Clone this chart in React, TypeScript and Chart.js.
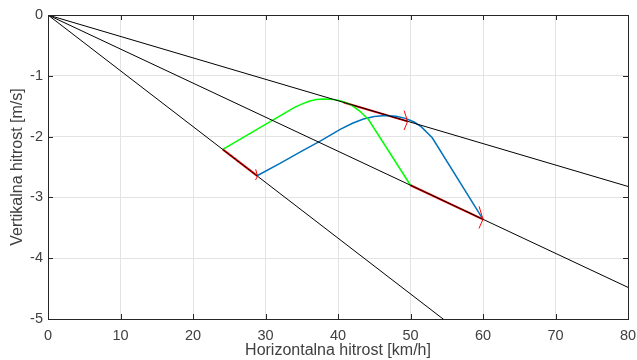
import React, { useEffect, useRef } from 'react';
import { Chart, registerables } from 'chart.js';

Chart.register(...registerables);

// ---- data ----
const xTicks = [0, 10, 20, 30, 40, 50, 60, 70, 80];
const yTicks = [0, -1, -2, -3, -4, -5];

const ray1X = [0, 80];
const ray1Y = [0, -2.82];
const ray2X = [0, 80];
const ray2Y = [0, -4.48];
const ray3X = [0, 80];
const ray3Y = [0, -7.34];

const greenX = [24.1, 26, 28, 30, 32, 33, 34, 35, 36, 37, 38, 39, 40, 40.8, 41.7, 43, 44.2, 50];
const greenY = [-2.21, -2.08, -1.94, -1.80, -1.66, -1.59, -1.52, -1.465, -1.42, -1.39, -1.38, -1.385, -1.40, -1.43, -1.47, -1.58, -1.72, -2.80];

const blueX = [28.9, 32, 35, 37.6, 40.3, 42, 43.5, 45, 46.5, 48, 49.3, 50.5, 51.5, 53, 60];
const blueY = [-2.64, -2.44, -2.24, -2.07, -1.88, -1.78, -1.71, -1.67, -1.655, -1.665, -1.70, -1.76, -1.84, -2.02, -3.36];

const arrow1X = [24.1, 28.9];
const arrow1Y = [-2.21, -2.65];
const arrow2X = [40.8, 49.6];
const arrow2Y = [-1.44, -1.75];
const arrow3X = [50, 60];
const arrow3Y = [-2.8, -3.36];

const xTitle = 'Horizontalna hitrost [km/h]';
const yTitle = 'Vertikalna hitrost [m/s]';

const FONT = '"Liberation Sans", Arial, Helvetica, sans-serif';
const AXIS_COLOR = '#262626';
const TEXT_COLOR = '#404040';

const pts = (xs: number[], ys: number[]) => xs.map((x, i) => ({ x, y: ys[i] }));

const axesBoxPlugin = {
  id: 'axesBox',
  afterDatasetsDraw(chart: any) {
    const { ctx, chartArea: a, scales } = chart;
    const tl = 5;
    ctx.save();
    ctx.strokeStyle = AXIS_COLOR;
    ctx.lineWidth = 1;
    ctx.beginPath();
    for (const t of scales.x.ticks) {
      const px = Math.round(scales.x.getPixelForValue(t.value)) + 0.5;
      ctx.moveTo(px, a.bottom);
      ctx.lineTo(px, a.bottom - tl);
      ctx.moveTo(px, a.top);
      ctx.lineTo(px, a.top + tl);
    }
    for (const t of scales.y.ticks) {
      const py = Math.round(scales.y.getPixelForValue(t.value)) + 0.5;
      ctx.moveTo(a.left, py);
      ctx.lineTo(a.left + tl, py);
      ctx.moveTo(a.right, py);
      ctx.lineTo(a.right - tl, py);
    }
    ctx.stroke();
    ctx.strokeRect(Math.round(a.left) + 0.5, Math.round(a.top) + 0.5, Math.round(a.right - a.left), Math.round(a.bottom - a.top));
    ctx.restore();
  },
};

// quiver-style arrowheads (computed in data units, like MATLAB quiver)
const arrowPlugin = {
  id: 'quiverHeads',
  afterDatasetsDraw(chart: any) {
    const { ctx, scales } = chart;
    const alpha = 0.055;
    const beta = 0.33;
    ctx.save();
    chart.data.datasets.forEach((ds: any) => {
      if (!ds.arrow) return;
      const d = ds.data;
      const p0 = d[0];
      const p1 = d[d.length - 1];
      const u = p1.x - p0.x;
      const v = p1.y - p0.y;
      const a1 = { x: p1.x - alpha * (u + beta * v), y: p1.y - alpha * (v - beta * u) };
      const a2 = { x: p1.x - alpha * (u - beta * v), y: p1.y - alpha * (v + beta * u) };
      const X = (val: number) => scales.x.getPixelForValue(val);
      const Y = (val: number) => scales.y.getPixelForValue(val);
      ctx.strokeStyle = ds.borderColor;
      ctx.lineWidth = 1;
      ctx.beginPath();
      ctx.moveTo(X(a1.x), Y(a1.y));
      ctx.lineTo(X(p1.x), Y(p1.y));
      ctx.lineTo(X(a2.x), Y(a2.y));
      ctx.stroke();
    });
    ctx.restore();
  },
};

export default function App() {
  const ref = useRef<HTMLCanvasElement | null>(null);

  useEffect(() => {
    if (!ref.current) return;
    const line = (data: any, color: string, width: number, extra: any = {}) => ({
      data,
      borderColor: color,
      backgroundColor: color,
      borderWidth: width,
      pointRadius: 0,
      tension: 0,
      fill: false,
      ...extra,
    });
    const chart = new Chart(ref.current, {
      type: 'line',
      data: {
        datasets: [
          line(pts(ray1X, ray1Y), '#000000', 1),
          line(pts(ray2X, ray2Y), '#000000', 1),
          line(pts(ray3X, ray3Y), '#000000', 1),
          line(pts(greenX, greenY), '#00ff00', 1.5),
          line(pts(blueX, blueY), '#0072bd', 1.5),
          line(pts(arrow1X, arrow1Y), '#ff0000', 2, { arrow: true }),
          line(pts(arrow2X, arrow2Y), '#ff0000', 2, { arrow: true }),
          line(pts(arrow3X, arrow3Y), '#ff0000', 2, { arrow: true }),
        ] as any,
      },
      options: {
        animation: false,
        responsive: true,
        maintainAspectRatio: false,
        parsing: false as any,
        layout: { padding: { left: 0, right: 9, top: 15, bottom: 0 } },
        plugins: {
          legend: { display: false },
          tooltip: { enabled: false },
        },
        elements: { line: { borderCapStyle: 'butt' } },
        scales: {
          x: {
            type: 'linear',
            min: 0,
            max: 80,
            afterBuildTicks: (s: any) => {
              s.ticks = xTicks.map((v) => ({ value: v }));
            },
            afterFit: (s: any) => {
              s.height = 41;
              s.paddingLeft = 0;
              s.paddingRight = 0;
            },
            ticks: {
              color: TEXT_COLOR,
              font: { family: FONT, size: 14.5 },
              padding: 8,
              maxRotation: 0,
              autoSkip: false,
              callback: (v: any) => String(v),
            },
            grid: { color: '#e3e3e3', drawTicks: false, lineWidth: 1 },
            border: { display: false },
            title: {
              display: true,
              text: xTitle,
              color: TEXT_COLOR,
              font: { family: FONT, size: 16 },
              padding: { top: 0, bottom: 0 },
            },
          },
          y: {
            type: 'linear',
            min: -5,
            max: 0,
            afterBuildTicks: (s: any) => {
              s.ticks = yTicks.map((v) => ({ value: v }));
            },
            afterFit: (s: any) => {
              s.width = 48;
              s.paddingTop = 0;
              s.paddingBottom = 0;
            },
            ticks: {
              color: TEXT_COLOR,
              font: { family: FONT, size: 14.5 },
              padding: 5,
              autoSkip: false,
              callback: (v: any) => String(v),
            },
            grid: { color: '#e3e3e3', drawTicks: false, lineWidth: 1 },
            border: { display: false },
            title: {
              display: true,
              text: yTitle,
              color: TEXT_COLOR,
              font: { family: FONT, size: 16 },
              padding: { top: 8, bottom: 0 },
            },
          },
        },
      },
      plugins: [axesBoxPlugin, arrowPlugin],
    });
    return () => chart.destroy();
  }, []);

  return (
    <div style={{ position: 'fixed', left: 0, top: 0, width: 637, height: 360, background: '#ffffff' }}>
      <canvas ref={ref} style={{ display: 'block', width: '100%', height: '100%' }} />
    </div>
  );
}
